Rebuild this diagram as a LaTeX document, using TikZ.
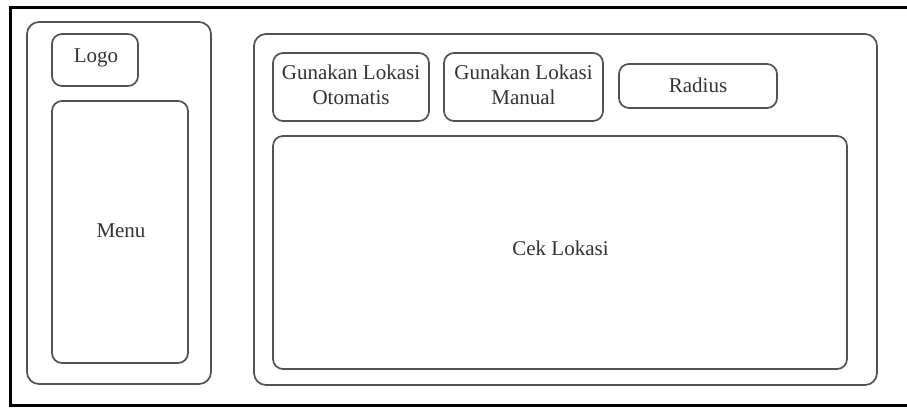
\documentclass[tikz,border=0pt]{standalone}
\usepackage{fontspec}
\setmainfont{Liberation Serif}
\begin{document}
\begin{tikzpicture}[x=1pt,y=-1pt,
  box/.style={draw=black!68, line width=1.7pt, rounded corners=10pt, fill=none, inner sep=0pt},
  panel/.style={draw=black!68, line width=1.7pt, rounded corners=12pt, inner sep=0pt},
  lbl/.style={text=black!80, font=\fontsize{21}{25}\selectfont, align=center, inner sep=0pt}]
\useasboundingbox (0,0) rectangle (907,408);
\clip (0,0) rectangle (907,408);
\fill[white] (0,0) rectangle (907,408);
% outer frame
\draw[black, line width=3pt] (10.5,7) rectangle (920,405);
% left panel
\node[panel, minimum width=184pt, minimum height=362pt] (left) at (119,203) {};
\node[box, minimum width=86pt, minimum height=52pt] (logo) at (95,60) {};
\node[lbl] (logot) at (96,58) {Logo};
\node[box, minimum width=136pt, minimum height=262pt] (menu) at (120,232) {};
\node[lbl] (menut) at (121,231) {Menu};
% right panel
\node[panel, minimum width=623pt, minimum height=351pt] (right) at (565.5,209.5) {};
\node[box, minimum width=156pt, minimum height=68pt] (auto) at (351,87) {};
\node[lbl] (autot) at (351,84.5) {Gunakan Lokasi\\Otomatis};
\node[box, minimum width=159pt, minimum height=68pt] (manual) at (523.5,87) {};
\node[lbl] (manualt) at (523.5,84.5) {Gunakan Lokasi\\Manual};
\node[box, minimum width=158pt, minimum height=44pt] (radius) at (698,86) {};
\node[lbl] (radiust) at (698,85) {Radius};
\node[box, minimum width=574pt, minimum height=233pt] (cek) at (560,252.5) {};
\node[lbl] (cekt) at (560.5,248) {Cek Lokasi};
\end{tikzpicture}
\end{document}
